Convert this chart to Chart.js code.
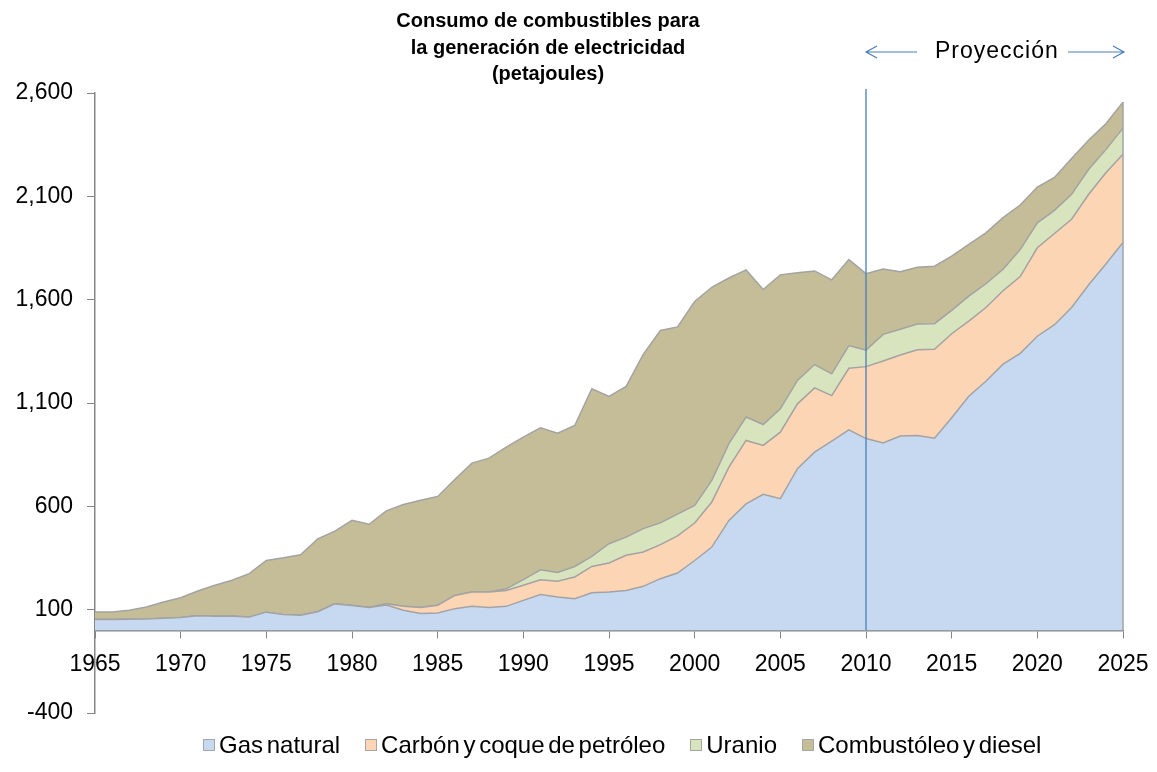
<!DOCTYPE html>
<html>
<head>
<meta charset="utf-8">
<script src="https://cdn.jsdelivr.net/npm/chart.js@4.4.1/dist/chart.umd.min.js"></script>
<style>
  body { margin: 0; background: #fff; font-family: "Liberation Sans", Arial, sans-serif; }
  #wrap { position: relative; width: 1157px; height: 772px; }
  #title { position: absolute; left: 348px; top: 7px; width: 400px; text-align: center; font-weight: bold; font-size: 20px; line-height: 26.5px; color: #000; }
  #proj { position: absolute; left: 935px; top: 39px; font-size: 23px; line-height: 23px; letter-spacing: 1px; color: #000; }
  #legend { position: absolute; left: 203px; top: 732px; display: flex; align-items: center; font-size: 24px; line-height: 26px; color: #000; word-spacing: -3px; }
  #legend .item { display: flex; align-items: center; margin-right: 25px; }
  #legend .box { width: 12px; height: 12px; margin-right: 4px; border: 1px solid #a6a6a6; box-sizing: border-box; }
</style>
</head>
<body>
<div id="wrap">
  <canvas id="chart"></canvas>
  <div id="title">Consumo de combustibles para<br>la generación de electricidad<br>(petajoules)</div>
  <div id="proj">Proyección</div>
  <div id="legend"></div>
</div>
<script>
const years = [
  1965, 1966, 1967, 1968, 1969, 1970, 1971, 1972, 1973, 1974,
  1975, 1976, 1977, 1978, 1979, 1980, 1981, 1982, 1983, 1984,
  1985, 1986, 1987, 1988, 1989, 1990, 1991, 1992, 1993, 1994,
  1995, 1996, 1997, 1998, 1999, 2000, 2001, 2002, 2003, 2004,
  2005, 2006, 2007, 2008, 2009, 2010, 2011, 2012, 2013, 2014,
  2015, 2016, 2017, 2018, 2019, 2020, 2021, 2022, 2023, 2024, 2025,
];
const projStart = 2010;

// petajoules per fuel
const gasNatural = [
  52, 52, 54, 55, 58, 62, 70, 68, 68, 64,
  88, 76, 73, 90, 128, 120, 110, 122, 97, 81,
  84, 105, 116, 110, 116, 145, 173, 161, 153, 182,
  185, 193, 213, 250, 277, 338, 403, 532, 612, 658,
  637, 782, 862, 915, 970, 928, 907, 940, 943, 930,
  1029, 1133, 1205, 1288, 1340, 1423, 1479, 1562, 1672, 1773, 1877,
];
const carbon = [
  0, 0, 0, 0, 0, 0, 0, 0, 0, 0,
  0, 0, 0, 0, 0, 0, 0, 7, 19, 29,
  37, 64, 69, 75, 77, 73, 72, 77, 105, 127,
  141, 170, 166, 165, 180, 181, 218, 258, 307, 237,
  322, 314, 311, 221, 298, 348, 396, 392, 415, 430,
  406, 363, 357, 355, 372, 428, 441, 427, 438, 441, 427,
];
const uranio = [
  0, 0, 0, 0, 0, 0, 0, 0, 0, 0,
  0, 0, 0, 0, 0, 0, 0, 0, 0, 0,
  0, 0, 0, 0, 8, 27, 48, 42, 51, 49,
  93, 88, 113, 105, 105, 85, 104, 113, 113, 101,
  113, 113, 113, 105, 110, 80, 129, 125, 124, 124,
  113, 121, 115, 104, 130, 121, 112, 121, 121, 112, 126,
];
const combustoleo = [
  37, 37, 43, 58, 79, 96, 120, 150, 174, 210,
  250, 275, 293, 353, 352, 412, 403, 449, 493, 519,
  527, 561, 624, 648, 685, 690, 687, 674, 682, 811,
  713, 729, 843, 931, 906, 987, 935, 802, 712, 653,
  648, 521, 453, 455, 416, 370, 316, 278, 275, 278,
  263, 251, 246, 250, 216, 173, 159, 173, 142, 125, 126,
];

const seriesNames = ["Gas natural", "Carbón y coque de petróleo", "Uranio", "Combustóleo y diesel"];
const seriesColors = ["#c6d9f1", "#fcd5b5", "#d7e4bd", "#c4bd97"];
const seriesData = [gasNatural, carbon, uranio, combustoleo];

const axisGray = "#868686";
const edgeGray = "#a3a3a3";
const blue = "#4a7ebb";
const font = { family: "'Liberation Sans', Arial, sans-serif", size: 23 };

function drawArrow(ctx, fromX, toX, y) {
  const dir = toX > fromX ? 1 : -1;
  ctx.beginPath();
  ctx.moveTo(fromX, y);
  ctx.lineTo(toX, y);
  ctx.moveTo(toX - dir * 11, y - 6);
  ctx.lineTo(toX, y);
  ctx.lineTo(toX - dir * 11, y + 6);
  ctx.stroke();
}

const annotations = {
  id: "annotations",
  afterDatasetsDraw(chart) {
    const { ctx, chartArea } = chart;
    const x = chart.scales.x;
    const y = chart.scales.y;
    const zero = y.getPixelForValue(0);
    ctx.save();
    // closing edge of the stacked area at the last year
    const last = chart.getDatasetMeta(seriesData.length - 1).data[years.length - 1];
    ctx.strokeStyle = edgeGray;
    ctx.lineWidth = 1.5;
    ctx.beginPath();
    ctx.moveTo(last.x, last.y);
    ctx.lineTo(last.x, zero);
    ctx.stroke();
    // start of projection
    const px = x.getPixelForValue(years.indexOf(projStart));
    ctx.strokeStyle = blue;
    ctx.lineWidth = 1.3;
    ctx.beginPath();
    ctx.moveTo(px, chartArea.top - 4);
    ctx.lineTo(px, zero);
    ctx.stroke();
    ctx.lineWidth = 1.2;
    drawArrow(ctx, px + 51, px, 52);
    drawArrow(ctx, chartArea.right - 55, chartArea.right + 1, 52);
    ctx.restore();
  },
};

const legend = document.getElementById("legend");
seriesNames.forEach((name, i) => {
  const item = document.createElement("div");
  item.className = "item";
  const box = document.createElement("span");
  box.className = "box";
  box.style.background = seriesColors[i];
  const txt = document.createElement("span");
  txt.textContent = name;
  item.appendChild(box);
  item.appendChild(txt);
  legend.appendChild(item);
});

const canvas = document.getElementById("chart");
canvas.width = 1157;
canvas.height = 772;

new Chart(canvas, {
  type: "line",
  data: {
    labels: years.map(String),
    datasets: seriesData.map((d, i) => ({
      label: seriesNames[i],
      data: d,
      backgroundColor: seriesColors[i],
      borderColor: edgeGray,
      borderWidth: 1.5,
      fill: i === 0 ? "origin" : "-1",
      pointRadius: 0,
      tension: 0,
    })),
  },
  options: {
    responsive: false,
    animation: false,
    layout: { padding: { top: 93, right: 34, bottom: 59, left: 0 } },
    plugins: { legend: { display: false }, title: { display: false }, tooltip: { enabled: false } },
    scales: {
      x: {
        type: "category",
        position: { y: 0 },
        offset: false,
        afterFit: (s) => { s.paddingLeft = 0; s.paddingRight = 0; },
        grid: {
          drawOnChartArea: false,
          tickLength: 7,
          color: (c) => (years[c.index] % 5 === 0 ? axisGray : "rgba(0,0,0,0)"),
        },
        border: { color: axisGray, width: 1.5 },
        ticks: {
          autoSkip: false,
          maxRotation: 0,
          padding: 14,
          color: "#000",
          font,
          callback: (v, i) => (years[i] % 5 === 0 ? String(years[i]) : ""),
        },
      },
      y: {
        stacked: true,
        min: -400,
        max: 2600,
        afterFit: (s) => { s.width = 95; },
        grid: { drawOnChartArea: false, tickLength: 8, color: axisGray },
        border: { color: axisGray, width: 1.5 },
        ticks: { stepSize: 500, padding: 14, color: "#000", font },
      },
    },
  },
  plugins: [annotations],
});
</script>
</body>
</html>
